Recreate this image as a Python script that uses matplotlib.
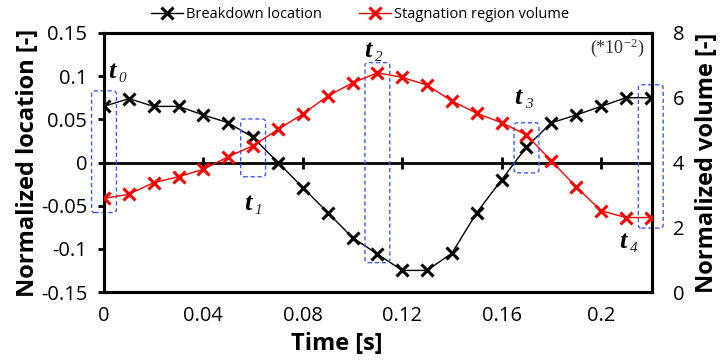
import matplotlib
matplotlib.use("Agg")
import matplotlib.pyplot as plt
from matplotlib.patches import FancyBboxPatch
from matplotlib.lines import Line2D
from matplotlib.transforms import offset_copy

plt.rcParams['font.family'] = ['Open Sans', 'DejaVu Sans']
plt.rcParams['mathtext.fontset'] = 'custom'
plt.rcParams['mathtext.rm'] = 'Liberation Serif'
plt.rcParams['mathtext.it'] = 'Liberation Serif:italic'

# Time samples [s]
time = [0.00, 0.01, 0.02, 0.03, 0.04, 0.05, 0.06, 0.07, 0.08, 0.09, 0.10, 0.11,
        0.12, 0.13, 0.14, 0.15, 0.16, 0.17, 0.18, 0.19, 0.20, 0.21, 0.22]

# Normalized breakdown location [-]
location = [0.065, 0.074, 0.065, 0.065, 0.055, 0.046, 0.029, 0.000, -0.029, -0.058,
            -0.087, -0.106, -0.125, -0.125, -0.105, -0.058, -0.020, 0.018, 0.046,
            0.055, 0.065, 0.075, 0.075]

# Normalized stagnation region volume (*10^-2) [-]
volume = [2.89, 3.02, 3.38, 3.56, 3.79, 4.18, 4.52, 5.02, 5.50, 6.05, 6.46, 6.77,
          6.63, 6.39, 5.90, 5.52, 5.23, 4.85, 4.05, 3.25, 2.51, 2.30, 2.30]

x_ticks = [0, 0.04, 0.08, 0.12, 0.16, 0.20]
x_ticklabels = ['0', '0.04', '0.08', '0.12', '0.16', '0.2']
loc_ticks = [-0.15, -0.1, -0.05, 0, 0.05, 0.1, 0.15]
loc_ticklabels = ['-0.15', '-0.1', '-0.05', '0', '0.05', '0.1', '0.15']
vol_ticks = [0, 2, 4, 6, 8]

# Highlighted instants: index, time, box bottom/top (location axis), label position
instant_index = ['0', '1', '2', '3', '4']
instant_times = [0.00, 0.06, 0.11, 0.17, 0.22]
box_low = [-0.058, -0.0165, -0.116, -0.012, -0.076]
box_high = [0.083, 0.0504, 0.1157, 0.046, 0.090]
label_x = [0.0030, 0.0578, 0.1063, 0.1665, 0.2087]
label_y = [0.105, -0.047, 0.130, 0.075, -0.092]

W, H = 724, 364
fig = plt.figure(figsize=(W / 100, H / 100), dpi=100)
ax = fig.add_axes([104 / W, 1 - 292 / H, 548 / W, 259 / H])
ax2 = ax.twinx()

ax.set_xlim(0, 0.2205)
ax.set_ylim(-0.15, 0.15)
ax2.set_ylim(0, 8)

for a in (ax, ax2):
    for s in a.spines.values():
        s.set_linewidth(2.2)
        s.set_color('black')

# Zero line with crossing ticks
ax.axhline(0, color='black', lw=2.0, zorder=2)
ax.plot(x_ticks[1:], [0] * (len(x_ticks) - 1), ls='none', marker='|',
        ms=9, mew=2.0, color='black', zorder=2)

ax.plot(time, location, color='black', lw=1.0, marker='x', ms=8, mew=2.2, zorder=4)
ax2.plot(time, volume, color='#ff0000', lw=1.0, marker='x', ms=8, mew=2.2, zorder=4)
ax2.set_zorder(ax.get_zorder() + 1)
ax2.patch.set_visible(False)

ax.set_xticks(x_ticks)
ax.set_xticklabels(x_ticklabels)
ax.set_yticks(loc_ticks)
ax.set_yticklabels(loc_ticklabels)
ax2.set_yticks(vol_ticks)

ax.tick_params(axis='x', length=0, pad=10, labelsize=14.5)
ax.tick_params(axis='y', direction='out', length=4, width=2, pad=8, labelsize=14.5)
ax2.tick_params(axis='y', direction='out', length=0, width=2, pad=15, labelsize=14.5)

ax.set_xlabel('Time [s]', fontsize=17, fontweight='bold')
ax.xaxis.set_label_coords(0.425, -0.155)
ax.set_ylabel('Normalized location [-]', fontsize=17, fontweight='bold', labelpad=1)
ax2.set_ylabel('Normalized volume [-]', fontsize=17, fontweight='bold', labelpad=8)

# Dashed boxes around the highlighted instants
for t, lo, hi in zip(instant_times, box_low, box_high):
    box = FancyBboxPatch((t - 0.005, lo), 0.010, hi - lo,
                         boxstyle='round,pad=0,rounding_size=0.0012',
                         mutation_aspect=2.9, fill=False, ec='#3a5cff',
                         lw=1.0, ls=(0, (3, 2)), clip_on=False, zorder=5)
    ax.add_patch(box)

# Instant labels: bold italic "t" with italic subscript
for idx, lx, ly in zip(instant_index, label_x, label_y):
    ax.text(lx, ly, 't', fontsize=19, family='Liberation Serif', style='italic',
            fontweight='bold', ha='center', va='center', color='black', zorder=6)
    sub = offset_copy(ax.transData, fig=fig, x=8, y=-5, units='points')
    ax.text(lx, ly, idx, fontsize=11, family='Liberation Serif', style='italic',
            ha='center', va='center', color='#222222', transform=sub, zorder=6)

ax.text(0.985, 0.945, '(*10$^{-2}$)', transform=ax.transAxes, ha='right', va='center',
        fontsize=13, color='#333333', family='Liberation Serif')

handles = [Line2D([], [], color='black', lw=1.0, marker='x', ms=8, mew=2.2),
           Line2D([], [], color='#ff0000', lw=1.0, marker='x', ms=8, mew=2.2)]
fig.legend(handles, ['Breakdown location', 'Stagnation region volume'],
           loc='center', bbox_to_anchor=(360 / W, 1 - 15 / H), ncol=2, frameon=False,
           fontsize=10.5, handlelength=2.2, handletextpad=0.2, columnspacing=2.5,
           borderaxespad=0)

fig.savefig('out.png', dpi=100)
